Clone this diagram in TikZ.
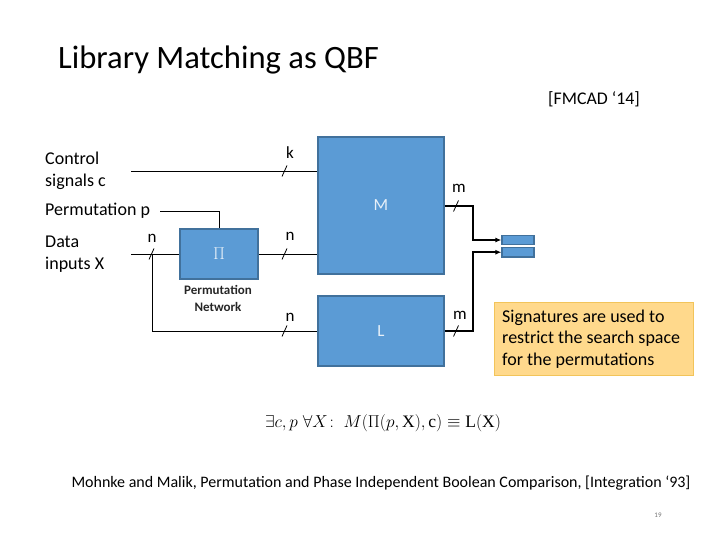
\documentclass[tikz,border=0pt]{standalone}
\usepackage{fontspec}
\setmainfont{Carlito}
\setmathrm{Liberation Serif}
\usetikzlibrary{arrows.meta}
\definecolor{boxblue}{HTML}{5B9BD5}
\definecolor{boxedge}{HTML}{41719C}
\definecolor{notefill}{HTML}{FFD98C}
\definecolor{noteedge}{HTML}{F2C45A}
\tikzset{
  block/.style={draw=boxedge, fill=boxblue, line width=1.2pt, inner sep=0pt, text=white!85!boxblue},
  wire/.style={draw=black, line width=0.8pt},
  outwire/.style={draw=black, line width=1.6pt},
  lbl/.style={font=\fontsize{17}{22}\selectfont, inner sep=0pt},
  sidelbl/.style={font=\fontsize{18}{22}\selectfont, inner sep=0pt},
  bus/.pic={\draw[line width=0.8pt] (-2.5,5.5) -- (2.5,-5.5);}
}
\begin{document}
\begin{tikzpicture}[x=1pt,y=-1pt]
\useasboundingbox (0,0) rectangle (720,540);
% title and reference
\node[anchor=base west, inner sep=0pt, font=\fontsize{32.6}{36}\selectfont] (title) at (58,69) {Library Matching as QBF};
\node[anchor=base east, inner sep=0pt, font=\fontsize{17.8}{20}\selectfont] (fmcad) at (640,105) {[FMCAD ‘14]};
% left labels
\node[sidelbl, anchor=west, align=left] (ctrl) at (45,171) {Control\\signals c};
\node[sidelbl, anchor=west] (perm) at (45,211) {Permutation p};
\node[sidelbl, anchor=west, align=left] (data) at (45,254) {Data\\inputs X};
% blocks
\node[block, minimum width=126, minimum height=137, font=\fontsize{17}{20}\selectfont] (M) at (381,205.5) {M};
\node[block, minimum width=126, minimum height=70, font=\fontsize{17}{20}\selectfont] (L) at (381,331) {L};
\node[block, minimum width=78, minimum height=50, font=\fontsize{16}{18}\selectfont] (Pi) at (219,254) {$\Pi$};
\node[font=\fontsize{13}{17}\selectfont\bfseries, align=center, inner sep=0pt, text=black!85] (pnet) at (218,298.5) {Permutation\\Network};
\node[block, minimum width=32, minimum height=8.5] (o1) at (518,240) {};
\node[block, minimum width=32, minimum height=9.5] (o2) at (518,252.2) {};
% coordinates
\coordinate (kin) at (131,171);
\coordinate (pin) at (160,211);
\coordinate (xin) at (131,254);
\coordinate (br) at (152.5,254);
% wires
\draw[wire] (kin) -- (kin -| M.west);
\draw[wire] (pin) -| (Pi.north);
\draw[wire] (xin) -- (Pi.west);
\draw[wire] (Pi.east) -- (Pi.east -| M.west);
\draw[wire] (br) |- (L.west);
\draw[outwire, -{Latex[length=6pt,width=5pt]}] (M.east |- 0,206) -- (473,206) |- (o1.west);
\draw[outwire, -{Latex[length=6pt,width=5pt]}] (L.east) -- (473,331) |- (o2.west);
% bus marks and widths
\pic at (284.5,171) {bus};
\node[lbl] (kl) at (290,153) {k};
\pic at (151.5,254) {bus};
\node[lbl] (nl1) at (152,238) {n};
\pic at (284.5,254) {bus};
\node[lbl] (nl2) at (290,236) {n};
\pic at (284.5,331) {bus};
\node[lbl] (nl3) at (290,317) {n};
\pic at (456,206) {bus};
\node[lbl] (ml1) at (459,188) {m};
\pic at (456,331) {bus};
\node[lbl] (ml2) at (460,315) {m};
% note
\node[draw=noteedge, fill=notefill, line width=1pt, minimum width=199, minimum height=73, anchor=north west] (note) at (494,302) {};
\node[font=\fontsize{18}{21.5}\selectfont, align=left, anchor=west, inner sep=0pt] (notetxt) at (502,339) {Signatures are used to\\restrict the search space\\for the permutations};
% formula
\node[font=\fontsize{17.5}{22}\selectfont, inner sep=0pt] (form) at (383,423) {$\exists c,p\;\forall X\!:\; M(\Pi(p,\mathrm{X}),\mathrm{c})\equiv \mathrm{L}(\mathrm{X})$};
% citation
\node[font=\fontsize{16}{19}\selectfont, inner sep=0pt] (cite) at (381,483) {Mohnke and Malik, Permutation and Phase Independent Boolean Comparison, [Integration ‘93]};
\node[font=\fontsize{7}{8}\selectfont, text=black!55, inner sep=0pt] (pg) at (658,515) {19};
\end{tikzpicture}
\end{document}
